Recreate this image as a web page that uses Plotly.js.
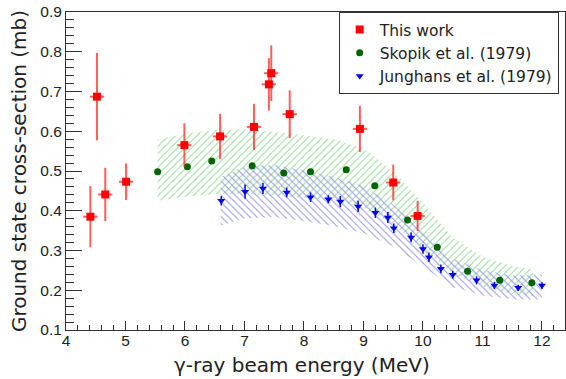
<!DOCTYPE html>
<html><head><meta charset="utf-8">
<script src="https://cdn.plot.ly/plotly-3.0.1.min.js"></script>
<style>html,body{margin:0;padding:0;background:#fff}#chart{width:566px;height:379px}</style>
</head><body><div id="chart"></div><script>
// This work (red squares)
const workE    = [4.41, 4.52, 4.66, 5.01, 5.99, 6.59, 7.16, 7.41, 7.45, 7.76, 8.94, 9.50, 9.91];
const workXS   = [0.385, 0.687, 0.441, 0.473, 0.565, 0.587, 0.611, 0.718, 0.746, 0.643, 0.606, 0.471, 0.387];
const workErr  = [0.077, 0.110, 0.067, 0.046, 0.055, 0.057, 0.058, 0.066, 0.070, 0.060, 0.058, 0.045, 0.038];
const workEErr = [0.12, 0.12, 0.12, 0.12, 0.12, 0.12, 0.12, 0.12, 0.12, 0.12, 0.12, 0.12, 0.12];

// Skopik et al. (1979) (green circles)
const skopikE  = [5.54, 6.04, 6.45, 7.13, 7.66, 8.11, 8.71, 9.19, 9.74, 10.24, 10.75, 11.29, 11.83];
const skopikXS = [0.498, 0.511, 0.525, 0.513, 0.495, 0.498, 0.503, 0.463, 0.377, 0.308, 0.248, 0.225, 0.219];

// Junghans et al. (1979) (blue triangles)
const jungE    = [6.61, 7.01, 7.31, 7.71, 8.11, 8.41, 8.61, 8.91, 9.20, 9.41, 9.51, 9.80, 10.00, 10.10, 10.30, 10.50, 10.90, 11.20, 11.60, 12.00];
const jungXS   = [0.425, 0.448, 0.456, 0.446, 0.434, 0.429, 0.423, 0.411, 0.395, 0.383, 0.356, 0.333, 0.304, 0.283, 0.254, 0.239, 0.225, 0.212, 0.206, 0.212];
const jungErr  = [0.012, 0.018, 0.014, 0.012, 0.012, 0.010, 0.014, 0.014, 0.013, 0.014, 0.012, 0.012, 0.012, 0.012, 0.011, 0.010, 0.010, 0.009, 0.008, 0.008];

// Hatched uncertainty bands
const greenBandE  = [5.54, 6.0, 6.5, 7.0, 7.5, 8.0, 8.5, 9.0, 9.5, 10.0, 10.5, 11.0, 11.5, 11.85];
const greenBandHi = [0.580, 0.594, 0.603, 0.605, 0.598, 0.590, 0.580, 0.557, 0.499, 0.420, 0.333, 0.284, 0.261, 0.253];
const greenBandLo = [0.425, 0.435, 0.442, 0.442, 0.438, 0.432, 0.425, 0.408, 0.366, 0.306, 0.242, 0.208, 0.191, 0.185];

const blueBandE  = [6.6, 7.0, 7.5, 8.0, 8.5, 9.0, 9.5, 10.0, 10.5, 11.0, 11.5, 12.0];
const blueBandHi = [0.485, 0.511, 0.515, 0.502, 0.485, 0.462, 0.416, 0.348, 0.279, 0.251, 0.237, 0.240];
const blueBandLo = [0.362, 0.381, 0.384, 0.374, 0.361, 0.344, 0.310, 0.259, 0.208, 0.187, 0.177, 0.177];

const xTickVals = [4, 5, 6, 7, 8, 9, 10, 11, 12];
const yTickVals = [0.1, 0.2, 0.3, 0.4, 0.5, 0.6, 0.7, 0.8, 0.9];

function band(xs, hi, lo) {
  return { x: xs.concat(xs.slice().reverse()), y: hi.concat(lo.slice().reverse()) };
}
const gb = band(greenBandE, greenBandHi, greenBandLo);
const bb = band(blueBandE, blueBandHi, blueBandLo);

const traces = [
  { x: gb.x, y: gb.y, type: 'scatter', mode: 'lines', fill: 'toself', showlegend: false,
    line: { width: 0, color: 'rgba(0,0,0,0)' }, fillcolor: 'rgba(0,0,0,0)',
    fillpattern: { shape: '/', fgcolor: '#93da93', bgcolor: 'rgba(0,0,0,0)', size: 5, solidity: 0.2 },
    hoverinfo: 'skip' },
  { x: bb.x, y: bb.y, type: 'scatter', mode: 'lines', fill: 'toself', showlegend: false,
    line: { width: 0, color: 'rgba(0,0,0,0)' }, fillcolor: 'rgba(0,0,0,0)',
    fillpattern: { shape: '\\', fgcolor: '#9494e8', bgcolor: 'rgba(0,0,0,0)', size: 5, solidity: 0.2 },
    hoverinfo: 'skip' },
  { x: jungE, y: jungXS, type: 'scatter', mode: 'markers', name: 'Junghans et al. (1979)', legendrank: 3,
    marker: { symbol: 'triangle-down', size: 7, color: '#0000ff' },
    error_y: { type: 'data', array: jungErr, color: '#0000ff', thickness: 1.5, width: 0 } },
  { x: skopikE, y: skopikXS, type: 'scatter', mode: 'markers', name: 'Skopik et al. (1979)', legendrank: 2,
    marker: { symbol: 'circle', size: 7, color: '#006400' } },
  { x: workE, y: workXS, type: 'scatter', mode: 'markers', name: 'This work', legendrank: 1,
    marker: { symbol: 'square', size: 8, color: '#ff0000' },
    error_y: { type: 'data', array: workErr, color: 'rgba(255,40,40,0.75)', thickness: 2, width: 0 },
    error_x: { type: 'data', array: workEErr, color: 'rgba(255,40,40,0.75)', thickness: 2, width: 0 } }
];

const tickFont = { family: 'Liberation Sans, Arial, sans-serif', size: 15.5, color: '#222' };
const layout = {
  width: 566, height: 379,
  margin: { l: 66, r: 1, t: 12, b: 49, pad: 0 },
  paper_bgcolor: '#fff', plot_bgcolor: '#fff',
  showlegend: true,
  legend: { x: 0.5465, xanchor: 'left', y: 1, yanchor: 'top', bgcolor: '#fff',
            bordercolor: '#333', borderwidth: 1, itemwidth: 30,
            font: { family: 'DejaVu Sans, sans-serif', size: 15.5, color: '#222' } },
  xaxis: { range: [4, 12.387], tickvals: xTickVals, ticktext: xTickVals.map(String),
           ticks: 'inside', ticklen: 9, tickwidth: 1, tickcolor: '#333', ticklabelstandoff: -4,
           minor: { dtick: 0.2, tick0: 4, ticks: 'inside', ticklen: 5, tickcolor: '#333', showgrid: false },
           showline: true, linecolor: '#333', linewidth: 1, mirror: true,
           showgrid: false, zeroline: false, tickfont: tickFont, automargin: false },
  yaxis: { range: [0.1, 0.9], tickvals: yTickVals, ticktext: yTickVals.map(v => v.toFixed(1)),
           ticks: 'inside', ticklen: 16, tickwidth: 1, tickcolor: '#333',
           minor: { dtick: 0.02, tick0: 0.1, ticks: 'inside', ticklen: 8, tickcolor: '#333', showgrid: false },
           showline: true, linecolor: '#333', linewidth: 1, mirror: true,
           showgrid: false, zeroline: false, tickfont: tickFont, automargin: false },
  annotations: [
    { text: 'γ-ray beam energy (MeV)', xref: 'paper', yref: 'paper', x: 0.472, y: -0.11,
      xanchor: 'center', yanchor: 'middle', showarrow: false,
      font: { family: 'DejaVu Sans, sans-serif', size: 20, color: '#222' } },
    { text: 'Ground state cross-section (mb)', xref: 'paper', yref: 'paper', x: -0.094, y: 0.5,
      xanchor: 'center', yanchor: 'middle', textangle: -90, showarrow: false,
      font: { family: 'DejaVu Sans, sans-serif', size: 20, color: '#222' } }
  ]
};
Plotly.newPlot('chart', traces, layout, { staticPlot: true, displayModeBar: false });
</script></body></html>
